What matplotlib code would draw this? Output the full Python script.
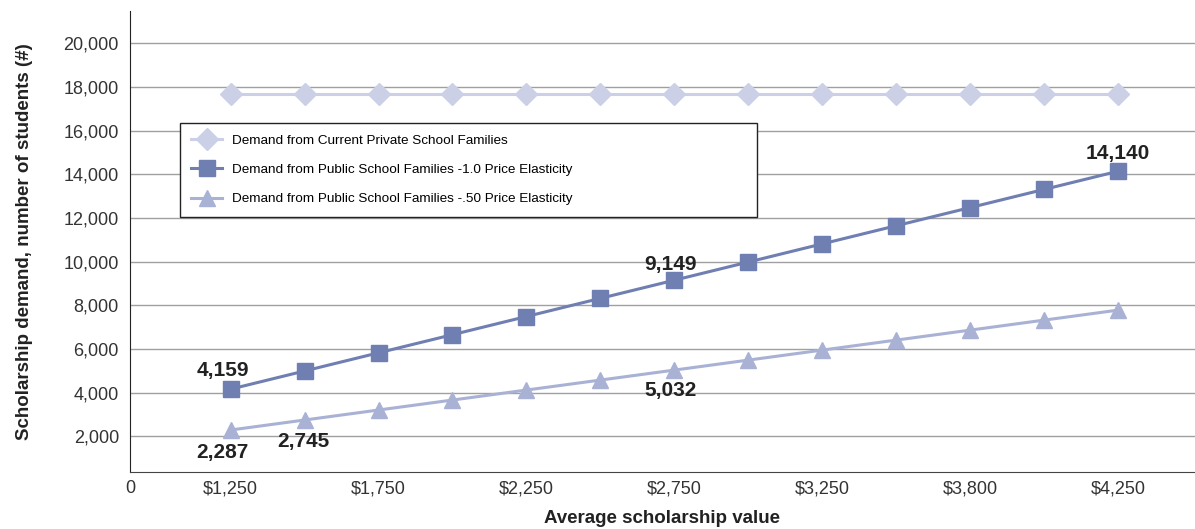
import matplotlib
matplotlib.use("Agg")
import numpy as np
from matplotlib import pyplot as plt

plt.rcParams['font.family'] = ['Liberation Sans', 'DejaVu Sans']

# data
values = ['$1,250', '$1,500', '$1,750', '$2,000', '$2,250', '$2,500', '$2,750',
          '$3,000', '$3,250', '$3,500', '$3,800', '$4,000', '$4,250']
private = [17700] * 13
public_10 = [4159, 4991, 5823, 6654, 7486, 8318, 9149, 9981, 10813, 11645, 12476, 13308, 14140]
public_05 = [2287, 2745, 3203, 3660, 4118, 4575, 5032, 5490, 5948, 6406, 6863, 7321, 7779]
yticks = [2000, 4000, 6000, 8000, 10000, 12000, 14000, 16000, 18000, 20000]

names = ['Demand from Current Private School Families',
         'Demand from Public School Families -1.0 Price Elasticity',
         'Demand from Public School Families -.50 Price Elasticity']

# which points get a value label: (index, offset in px)
labels_10 = [(0, (-8, 19)), (6, (-4, 16)), (12, (0, 18))]
labels_05 = [(0, (-8, -22)), (1, (-1, -21)), (6, (-4, -20))]

c_priv = '#CBD0E6'
c_10 = '#6F7FB1'
c_05 = '#A9B2D5'

fig = plt.figure(figsize=(11.95, 5.29), dpi=100)
ax = fig.add_axes([130/1195, 1-472/529, 1-130/1195, (472-11)/529])

x = np.arange(len(values))
ax.plot(x, private, color=c_priv, lw=2.2, marker='D', ms=11, mec=c_priv, label=names[0], zorder=3)
ax.plot(x, public_10, color=c_10, lw=2.2, marker='s', ms=11, mec=c_10, label=names[1], zorder=3)
ax.plot(x, public_05, color=c_05, lw=2.2, marker='^', ms=11, mec=c_05, label=names[2], zorder=3)

for i, off in labels_10:
    ax.annotate(f'{public_10[i]:,}', (x[i], public_10[i]), xytext=(off[0]*0.72, off[1]*0.72),
                textcoords='offset points', ha='center', va='center',
                fontsize=15, fontweight='bold', color='#222222')
for i, off in labels_05:
    ax.annotate(f'{public_05[i]:,}', (x[i], public_05[i]), xytext=(off[0]*0.72, off[1]*0.72),
                textcoords='offset points', ha='center', va='center',
                fontsize=15, fontweight='bold', color='#222222')

left = -1.36
ax.set_xlim(left, 13.04)
ax.set_ylim(364, 21480)
ax.set_xticks([left] + list(x[::2]))
ax.set_xticklabels(['0'] + values[::2], fontsize=13, color='#333333')
ax.set_yticks(yticks)
ax.set_yticklabels([f'{v:,}' for v in yticks], fontsize=13, color='#333333')
ax.tick_params(axis='y', length=0, pad=8)
ax.tick_params(axis='x', length=0, pad=6)

ax.grid(axis='y', color='#A0A0A0', lw=1)
ax.set_axisbelow(True)
for s in ['top', 'right']:
    ax.spines[s].set_visible(False)
ax.spines['left'].set_color('#222222')
ax.spines['bottom'].set_color('#444444')

ax.set_xlabel('Average scholarship value', fontsize=13.5, fontweight='bold', color='#222222', labelpad=9)
ax.set_ylabel('Scholarship demand, number of students (#)', fontsize=13.5, fontweight='bold',
              color='#222222', labelpad=22)

# legend box spans x 180..757, y 123..218 px in the reference
top = (472 - 123) / 461
leg = ax.legend(loc='upper left', mode='expand',
                bbox_to_anchor=(50/1065, top - 0.1, 577/1065, 0.1), fontsize=9.7,
                frameon=True, fancybox=False, edgecolor='#222222', framealpha=1,
                borderpad=0.85, labelspacing=1.25, handlelength=2.3, handletextpad=0.7,
                borderaxespad=0)
leg.get_frame().set_linewidth(1)

fig.savefig('out.png', dpi=100)
